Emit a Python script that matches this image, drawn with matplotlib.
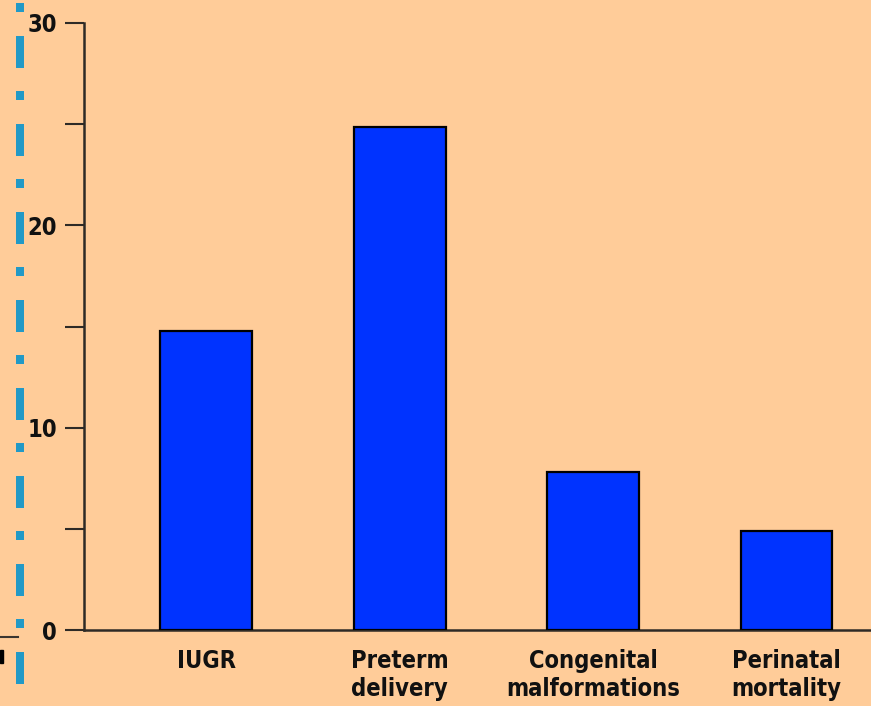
import matplotlib
matplotlib.use("Agg")
import matplotlib.pyplot as plt
from matplotlib.lines import Line2D
from matplotlib.patches import Rectangle

# Data
categories = ["IUGR", "Preterm\ndelivery", "Congenital\nmalformations", "Perinatal\nmortality"]
values = [14.8, 24.85, 7.8, 4.9]
yticks = [0, 5, 10, 15, 20, 25, 30]
ytick_labels = ["0", "", "10", "", "20", "", "30"]

BG = "#FFCC99"
BAR = "#0033FF"
AXIS = "#2e2a26"
CYAN = "#2299C6"

W, H = 871, 706
fig = plt.figure(figsize=(W / 100, H / 100), dpi=100, facecolor=BG)

left, right_px, top_px, bottom_px = 84, 871, 23, 630
ax = fig.add_axes([left / W, (H - bottom_px) / H, (right_px - left) / W, (bottom_px - top_px) / H])
ax.set_facecolor(BG)

x = list(range(len(categories)))
ax.bar(x, values, width=0.475, color=BAR, edgecolor="black", linewidth=1.6, zorder=3)

ax.set_ylim(0, 30)
ax.set_xlim(-0.633, 3.437)
ax.set_yticks(yticks)
ax.set_yticklabels(ytick_labels)
ax.set_xticks(x)
ax.set_xticklabels(categories, linespacing=1.2)

for lab in ax.get_yticklabels() + ax.get_xticklabels():
    lab.set_fontfamily("DejaVu Sans")
    lab.set_fontstretch("condensed")
    lab.set_fontweight("bold")
    lab.set_fontsize(17)
    lab.set_color("#111111")

ax.tick_params(axis="y", length=13.5, width=1.5, color=AXIS, pad=6, direction="out")
ax.tick_params(axis="x", length=0, pad=14)

for side in ("top", "right"):
    ax.spines[side].set_visible(False)
for side in ("left", "bottom"):
    ax.spines[side].set_color(AXIS)
    ax.spines[side].set_linewidth(1.8)

# dash-dot guide along the left edge
lw_pt = 5.76
guide = Line2D([20 / W, 20 / W], [1.0, 0.0], transform=fig.transFigure,
               color=CYAN, linewidth=lw_pt, solid_capstyle="butt", dash_capstyle="butt",
               linestyle=(6.5, (4.0, 2.875, 1.125, 3.0)))
fig.add_artist(guide)

# small fragments at lower-left corner
fig.add_artist(Line2D([0, 18 / W], [(H - 637) / H, (H - 637) / H], transform=fig.transFigure,
                      color="#3a3530", linewidth=1.5))
fig.add_artist(Rectangle((0, (H - 663) / H), 3 / W, 13 / H, transform=fig.transFigure,
                         color="black"))

fig.savefig("out.png", dpi=100, facecolor=BG)
